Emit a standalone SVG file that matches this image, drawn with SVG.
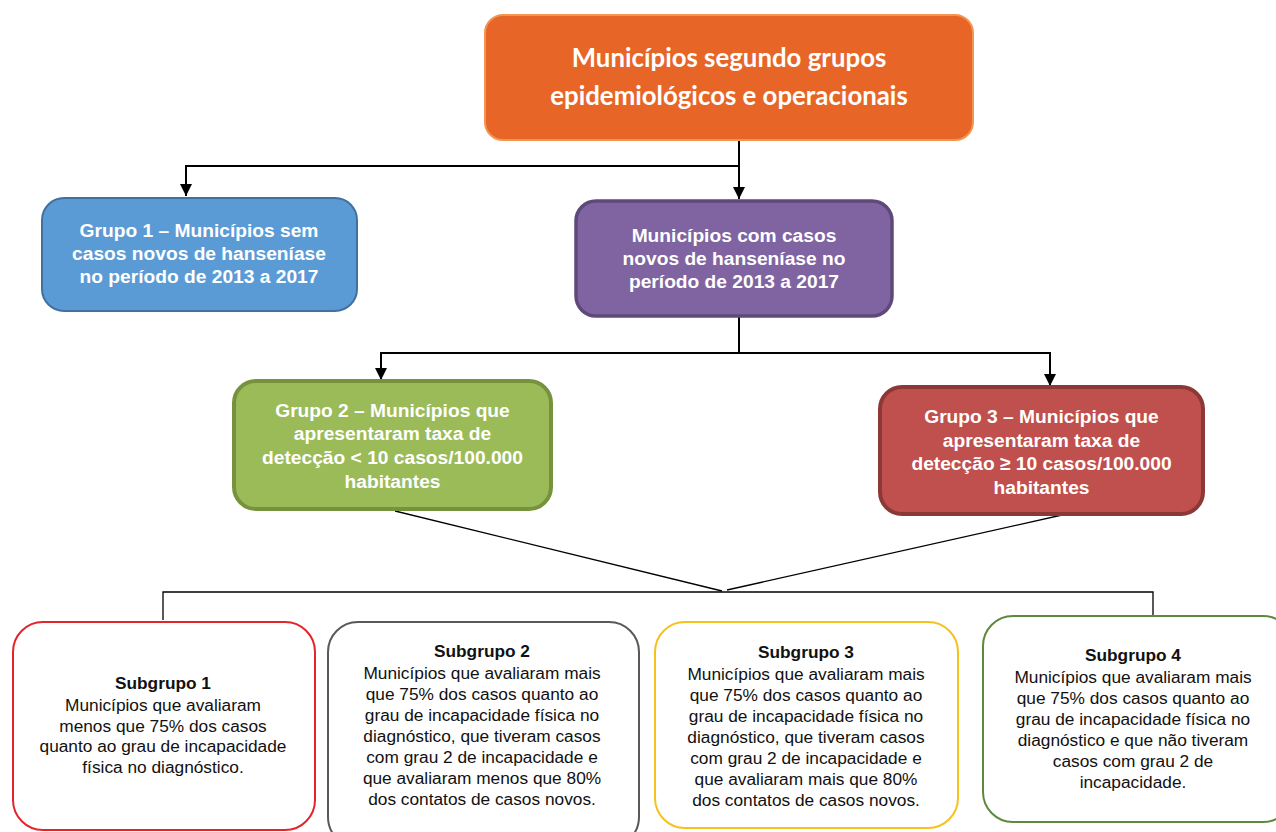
<svg xmlns="http://www.w3.org/2000/svg" width="1276" height="832" viewBox="0 0 1276 832">
<defs>
<style>
.t{font-family:"Lato","Liberation Sans",sans-serif;font-weight:bold;font-size:25.8px;fill:#fff;text-anchor:middle}
.g{font-family:"Liberation Sans",Arial,sans-serif;font-weight:bold;font-size:19.2px;fill:#fff;text-anchor:middle}
.s{font-family:"Liberation Sans",Arial,sans-serif;font-size:17.3px;fill:#111;text-anchor:middle}
.sb{font-weight:bold}
.c{fill:none;stroke:#000;stroke-width:2}
.v{fill:none;stroke:#000;stroke-width:1.3}
.sub{fill:#fff;stroke-width:2}
</style>
<marker id="ah" viewBox="0 0 10 10" refX="10" refY="5" markerWidth="6" markerHeight="6" markerUnits="strokeWidth" orient="auto">
<path d="M0,0 L10,5 L0,10 z" fill="#000"/>
</marker>
</defs>
<rect width="1276" height="832" fill="#fff"/>
<g id="connectors">
<path class="c" d="M739,140 V166 H186 V196" marker-end="url(#ah)"/>
<path class="c" d="M739,166 V199" marker-end="url(#ah)"/>
<path class="c" d="M739,316 V353 H381 V380" marker-end="url(#ah)"/>
<path class="c" d="M739,353 H1050 V386" marker-end="url(#ah)"/>
<path class="v" d="M395,511 L722,591"/>
<path class="v" d="M1062,515 L727,590"/>
<path class="v" d="M163,620 V592 H1153 V616"/>
</g>
<g id="root">
<rect x="485" y="15" width="488" height="125" rx="18" fill="#E66527" stroke="#F39550" stroke-width="2"/>
<text class="t" x="729" y="67">Municípios segundo grupos</text>
<text class="t" x="729" y="105">epidemiológicos e operacionais</text>
</g>
<g id="grupo1">
<rect x="42" y="198" width="315" height="113" rx="22" fill="#5B9BD5" stroke="#41719C" stroke-width="2"/>
<text class="g" x="199" y="237">Grupo 1 – Municípios sem</text>
<text class="g" x="199" y="260">casos novos de hanseníase</text>
<text class="g" x="199" y="283">no período de 2013 a 2017</text>
</g>
<g id="comcasos">
<rect x="576" y="201" width="316" height="115" rx="20" fill="#8064A2" stroke="#5F497A" stroke-width="3.5"/>
<text class="g" x="734" y="242">Municípios com casos</text>
<text class="g" x="734" y="265">novos de hanseníase no</text>
<text class="g" x="734" y="288">período de 2013 a 2017</text>
</g>
<g id="grupo2">
<rect x="234" y="381" width="317" height="128" rx="22" fill="#9BBB59" stroke="#76923C" stroke-width="4"/>
<text class="g" x="392.5" y="417">Grupo 2 – Municípios que</text>
<text class="g" x="392.5" y="440">apresentaram taxa de</text>
<text class="g" x="392.5" y="464">detecção &lt; 10 casos/100.000</text>
<text class="g" x="392.5" y="488">habitantes</text>
</g>
<g id="grupo3">
<rect x="880" y="387" width="323" height="127" rx="22" fill="#C0504D" stroke="#8C3836" stroke-width="4"/>
<text class="g" x="1041.5" y="423">Grupo 3 – Municípios que</text>
<text class="g" x="1041.5" y="447">apresentaram taxa de</text>
<text class="g" x="1041.5" y="470">detecção ≥ 10 casos/100.000</text>
<text class="g" x="1041.5" y="494">habitantes</text>
</g>
<g id="subgrupo1">
<rect class="sub" x="13" y="622" width="302" height="208" rx="30" stroke="#E3242B"/>
<text class="s sb" x="163" y="689">Subgrupo 1</text>
<text class="s" x="163" y="711">Municípios que avaliaram</text>
<text class="s" x="163" y="732">menos que 75% dos casos</text>
<text class="s" x="163" y="752">quanto ao grau de incapacidade</text>
<text class="s" x="163" y="773">física no diagnóstico.</text>
</g>
<g id="subgrupo2">
<rect class="sub" x="328" y="622" width="311" height="225" rx="30" stroke="#595959"/>
<text class="s sb" x="482" y="657">Subgrupo 2</text>
<text class="s" x="482" y="679">Municípios que avaliaram mais</text>
<text class="s" x="482" y="700">que 75% dos casos quanto ao</text>
<text class="s" x="482" y="721">grau de incapacidade física no</text>
<text class="s" x="482" y="742">diagnóstico, que tiveram casos</text>
<text class="s" x="482" y="763">com grau 2 de incapacidade e</text>
<text class="s" x="482" y="784">que avaliaram menos que 80%</text>
<text class="s" x="482" y="805">dos contatos de casos novos.</text>
</g>
<g id="subgrupo3">
<rect class="sub" x="655" y="622" width="303" height="206" rx="30" stroke="#F5C21B"/>
<text class="s sb" x="806" y="658">Subgrupo 3</text>
<text class="s" x="806" y="680">Municípios que avaliaram mais</text>
<text class="s" x="806" y="701">que 75% dos casos quanto ao</text>
<text class="s" x="806" y="722">grau de incapacidade física no</text>
<text class="s" x="806" y="743">diagnóstico, que tiveram casos</text>
<text class="s" x="806" y="764">com grau 2 de incapacidade e</text>
<text class="s" x="806" y="785">que avaliaram mais que 80%</text>
<text class="s" x="806" y="806">dos contatos de casos novos.</text>
</g>
<g id="subgrupo4">
<rect class="sub" x="983" y="616" width="310" height="206" rx="30" stroke="#5B8A3C"/>
<text class="s sb" x="1133" y="661">Subgrupo 4</text>
<text class="s" x="1133" y="683">Municípios que avaliaram mais</text>
<text class="s" x="1133" y="704">que 75% dos casos quanto ao</text>
<text class="s" x="1133" y="725">grau de incapacidade física no</text>
<text class="s" x="1133" y="746">diagnóstico e que não tiveram</text>
<text class="s" x="1133" y="767">casos com grau 2 de</text>
<text class="s" x="1133" y="788">incapacidade.</text>
</g>
</svg>
